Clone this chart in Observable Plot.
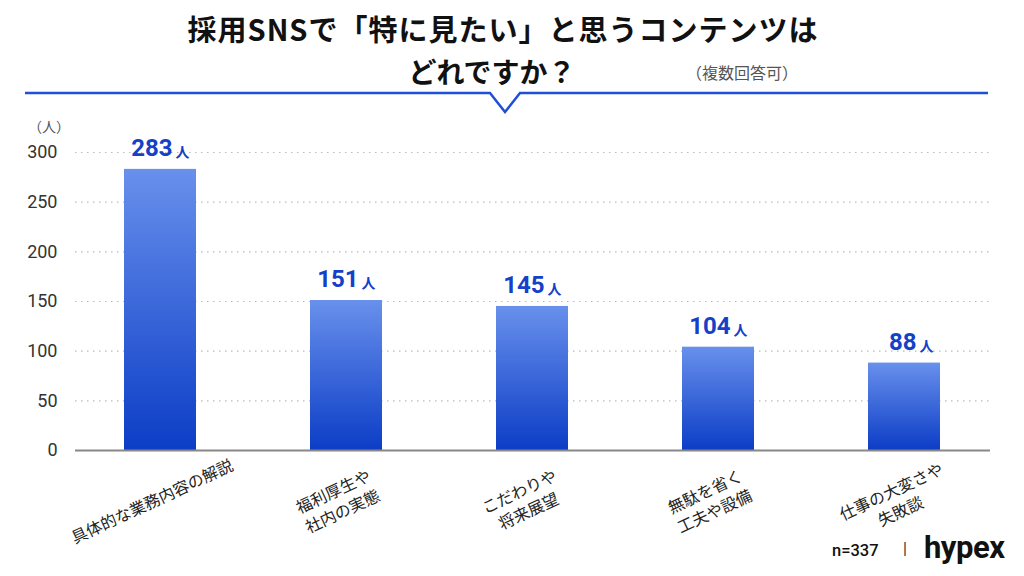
<!DOCTYPE html>
<html><head><meta charset="utf-8">
<script src="https://cdn.jsdelivr.net/npm/d3@7"></script>
<script src="https://cdn.jsdelivr.net/npm/@observablehq/plot@0.6"></script>
<style>
body{margin:0;background:#fff;font-family:"Noto Sans CJK JP","Noto Sans",sans-serif;}
#wrap{position:relative;width:1024px;height:576px;overflow:hidden;}
.t1{position:absolute;left:0;width:1006px;top:8px;text-align:center;font-size:29px;font-weight:700;color:#111;letter-spacing:1px;line-height:40px;}
.t2{position:absolute;left:0;width:984px;top:51px;text-align:center;font-size:28px;font-weight:700;color:#111;line-height:40px;}
.note{position:absolute;left:686px;top:60px;font-size:16px;color:#555;}
.unit{position:absolute;left:28px;top:116px;font-size:14px;color:#555;z-index:2;}
#deco{position:absolute;left:0;top:0;}
#chart{position:absolute;left:0;top:115px;z-index:1;}
.foot{position:absolute;top:535px;left:832px;font-family:Roboto,"Noto Sans",sans-serif;color:#111;}
</style></head>
<body><div id="wrap">
<div class="t1">採用SNSで「特に見たい」と思うコンテンツは</div>
<div class="t2">どれですか？</div>
<div class="note">（複数回答可）</div>
<svg id="deco" width="1024" height="130"><polyline points="25,93 490,93 505,112 520,93 988,93" fill="none" stroke="#1f4fd6" stroke-width="2.5"/></svg>
<div id="chart"></div>
<div class="unit">（人）</div>
<div class="foot"><span style="position:absolute;left:0;top:6px;font-size:16.5px;font-weight:500;">n=337</span><span style="position:absolute;left:71px;top:4px;font-size:16px;color:#333;">|</span><span style="position:absolute;left:92px;top:-6px;font-size:31px;font-weight:700;letter-spacing:-0.5px;">hypex</span></div>
</div>
<script>
const categories = ["具体的な業務内容の解説","福利厚生や\n社内の実態","こだわりや\n将来展望","無駄を省く\n工夫や設備","仕事の大変さや\n失敗談"];
const values = [283,151,145,104,88];
const yTicks = [0,50,100,150,200,250,300];
const unitLabel = "人";

const data = categories.map((c,i)=>({cat:c, value:values[i]}));

const chart = Plot.plot({
  width: 1024,
  height: 461,
  marginLeft: 66,
  marginRight: 26,
  marginTop: 37,
  marginBottom: 126,
  style: {fontFamily: "'Noto Sans CJK JP', sans-serif", background: "transparent"},
  x: {domain: categories, paddingInner: 0.614, paddingOuter: 0.307, axis: null},
  y: {domain: [0,300], axis: null},
  marks: [
    Plot.ruleY(yTicks.filter(d=>d>0), {stroke:"#bbb", strokeWidth:1.2, strokeDasharray:"1.5,4.5", insetLeft:9, insetRight:8}),
    Plot.barY(data, {x:"cat", y:"value", fill:"url(#barGrad)"}),
    Plot.ruleY([0], {stroke:"#888", strokeWidth:2, insetLeft:9, insetRight:8}),
    Plot.axisY({ticks: yTicks, label: null, tickSize: 0, tickPadding: 9, fontSize: 18, fill:"#333", fontFamily:"Roboto, sans-serif"}),
    Plot.text(data, {x:"cat", y:"value", text:d=>String(d.value), textAnchor:"end", dx:12, dy:-21, lineAnchor:"middle", fill:"#1540c8", fontSize:24, fontWeight:700, fontFamily:"Roboto, sans-serif"}),
    Plot.text(data, {x:"cat", y:"value", text:()=>unitLabel, textAnchor:"start", dx:15, dy:-17, lineAnchor:"middle", fill:"#1540c8", fontSize:14, fontWeight:700}),
    Plot.text(data, {x:"cat", text:"cat", frameAnchor:"bottom", dy:50, dx:-9, rotate:-25, textAnchor:"middle", lineAnchor:"middle", lineHeight:1.35, fontSize:16, fill:"#222"})
  ]
});
const ns = "http://www.w3.org/2000/svg";
const defs = document.createElementNS(ns, "defs");
const lg = document.createElementNS(ns, "linearGradient");
lg.setAttribute("id","barGrad"); lg.setAttribute("x1","0"); lg.setAttribute("y1","0"); lg.setAttribute("x2","0"); lg.setAttribute("y2","1");
[["0%","#6890ec"],["100%","#0c3dc6"]].forEach(([o,c])=>{const s=document.createElementNS(ns,"stop");s.setAttribute("offset",o);s.setAttribute("stop-color",c);lg.appendChild(s);});
defs.appendChild(lg);
chart.insertBefore(defs, chart.firstChild);
document.getElementById("chart").appendChild(chart);
</script>
</body></html>
